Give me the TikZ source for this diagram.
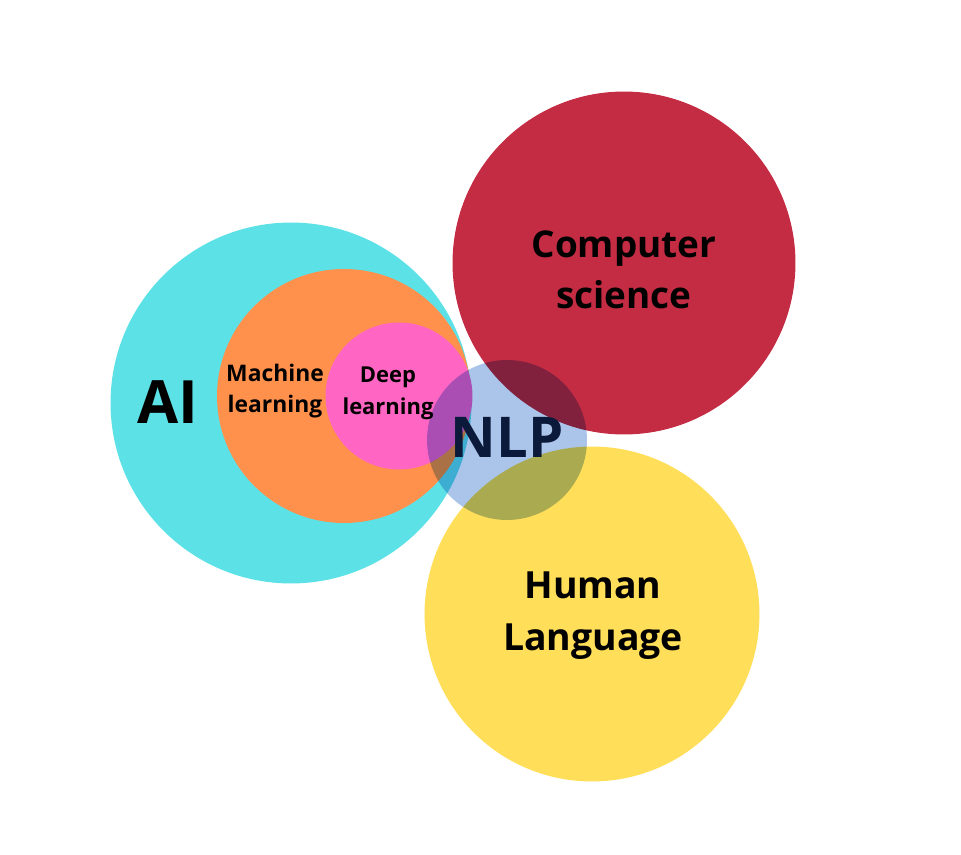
\documentclass[tikz,border=0pt]{standalone}
\usepackage{fontspec}
\setmainfont{Open Sans}
\usetikzlibrary{positioning}
\definecolor{aicyan}{HTML}{5CE1E6}
\definecolor{mlorange}{HTML}{FF914D}
\definecolor{dlpink}{HTML}{FF66C4}
\definecolor{csred}{HTML}{C42C44}
\definecolor{hlyellow}{HTML}{FFDE59}
\definecolor{nlpblue}{HTML}{AAC5E9}
\definecolor{nlpink}{HTML}{0B1A3A}

\begin{document}
\begin{tikzpicture}[x=0.02cm,y=-0.02cm,
		blob/.style={circle,inner sep=0pt},
		tag/.style={align=center,font=\bfseries,text=black}]
		\useasboundingbox (0,0) rectangle (961,855);
		\node[blob, fill=aicyan, minimum size=7.22cm] (ai) at (291,403) {};
		\node[blob, fill=mlorange, minimum size=5.08cm] (ml) at (344,396) {};
		\node[blob, fill=dlpink, minimum size=2.94cm] (dl) at (399,396) {};
		\node[blob, fill=csred, minimum size=6.86cm] (cs) at (624,263) {};
		\node[blob, fill=hlyellow, minimum size=6.7cm] (hl) at (592,614) {};
		\node[blob, fill=nlpblue, minimum size=3.2cm, blend mode=multiply] (nlp) at (507,440) {};
		% labels
		\node[tag, font=\bfseries\fontsize{34}{40}\selectfont] (ai_t) at (168,402) {AI};
		\node[tag, font=\bfseries\fontsize{13}{18}\selectfont] (ml_t) at (275,391) {Machine\\learning};
		\node[tag, font=\bfseries\fontsize{12.5}{18}\selectfont] (dl_t) at (388,393) {Deep\\learning};
		\node[tag, font=\bfseries\fontsize{32}{40}\selectfont, text=nlpink] (nlp_t) at (507,437) {NLP};
		\node[tag, font=\bfseries\fontsize{21}{29}\selectfont] (cs_t) at (624,270) {Computer\\science};
		\node[tag, font=\bfseries\fontsize{21.3}{29.5}\selectfont] (hl_t) at (593,616) {Human\\Language};
	\end{tikzpicture}
\end{document}
